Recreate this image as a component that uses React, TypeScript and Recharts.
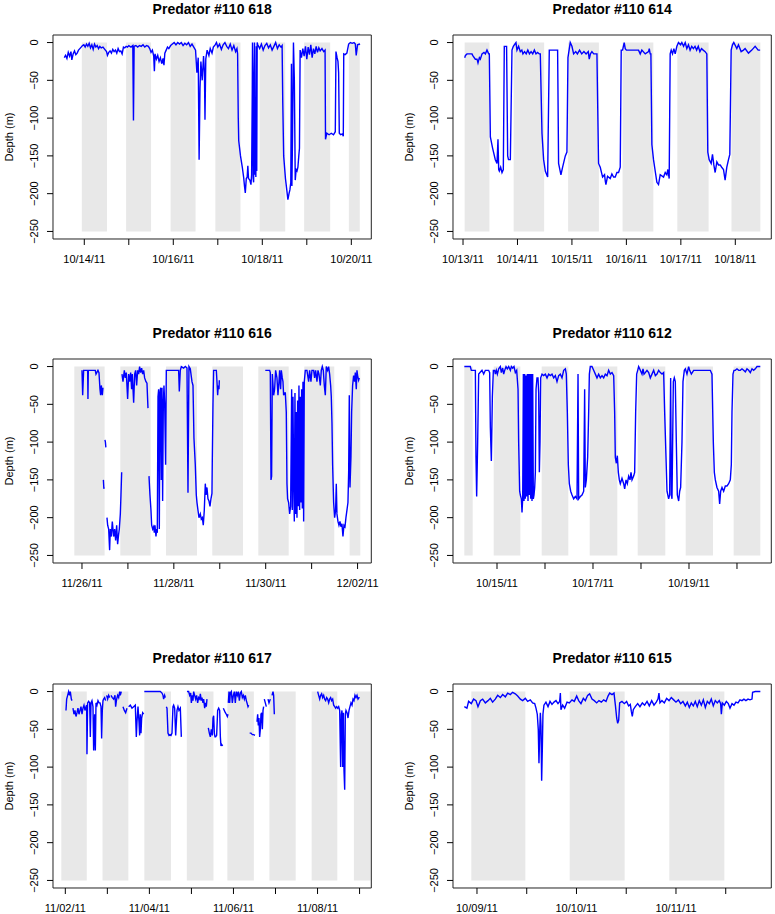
import { LineChart, Line, XAxis, YAxis, ReferenceArea } from "recharts";

const FONT = '"Liberation Sans", Arial, Helvetica, sans-serif';
const BOX_W = 318.3;
const BOX_H = 204;
const PAD_L = 50;
const PAD_T = 40;
const PAD_R = 10;
const PAD_B = 40;
const Y_DOMAIN: [number, number] = [-260, 10];

type Pt = [number, number | null];
type Band = [number, number];

const depthTicks = [-250, -200, -150, -100, -50, 0];

// 618 — days from 10/13/11
const ticks618 = [1, 2, 3, 4, 5, 6, 7];
const labels618 = ["10/14/11", "", "10/16/11", "", "10/18/11", "", "10/20/11"];
const nights618: Band[] = [
  [0.945, 1.51], [1.94, 2.5], [2.94, 3.5], [3.945, 4.51], [4.94, 5.515], [5.94, 6.525], [6.945, 7.19],
];
const trace618: Pt[] = [
  [0.55, -20], [0.58, -17], [0.61, -21], [0.64, -13], [0.67, -18], [0.7, -12], [0.72, -23], [0.75, -15],
  [0.78, -11], [0.81, -16], [0.84, -14], [0.87, -10], [0.9, -8], [0.93, -6], [0.96, -4], [0.99, -3],
  [1.02, -6], [1.05, -2], [1.08, -5], [1.11, -1], [1.14, -7], [1.17, -3], [1.2, -9], [1.23, -2],
  [1.26, -6], [1.29, -4], [1.32, -8], [1.35, -5], [1.38, -7], [1.42, -6], [1.46, -9], [1.5, -12],
  [1.52, -17], [1.55, -13], [1.58, -11], [1.61, -14], [1.64, -9], [1.67, -12], [1.7, -10], [1.73, -14],
  [1.76, -8], [1.79, -12], [1.82, -11], [1.85, -15], [1.88, -6], [1.91, -7], [1.94, -5], [1.97, -6],
  [2.0, -4], [2.05, -6], [2.09, -4], [2.105, -103], [2.12, -5], [2.16, -4], [2.2, -6], [2.24, -4],
  [2.28, -5], [2.32, -3], [2.36, -6], [2.4, -4], [2.44, -5], [2.47, -8], [2.5, -13], [2.53, -10],
  [2.56, -18], [2.575, -38], [2.59, -15], [2.62, -22], [2.65, -17], [2.68, -25], [2.71, -20], [2.74, -28],
  [2.77, -21], [2.79, -30], [2.81, -14], [2.84, -10], [2.87, -6], [2.9, -8], [2.94, -4], [2.98, -2],
  [3.02, 0], [3.06, -3], [3.1, 0], [3.14, -2], [3.18, 0], [3.22, -4], [3.26, -1], [3.3, -3],
  [3.34, 0], [3.38, -5], [3.42, -2], [3.46, -6], [3.5, -10], [3.53, -40], [3.56, -20], [3.58, -155],
  [3.6, -60], [3.62, -25], [3.65, -50], [3.68, -18], [3.7, -40], [3.712, -102], [3.73, -22], [3.76, -10],
  [3.8, -17], [3.83, -8], [3.87, -14], [3.9, -6], [3.94, -3], [3.97, 0], [4.0, -6], [4.04, -2],
  [4.08, -9], [4.12, -3], [4.16, 0], [4.2, -5], [4.24, -8], [4.28, -2], [4.32, -10], [4.36, -4],
  [4.4, -12], [4.43, -8], [4.445, -15], [4.46, -100], [4.47, -130], [4.51, -150], [4.55, -165], [4.58, -178],
  [4.6, -190], [4.618, -199], [4.64, -180], [4.66, -178], [4.675, -163], [4.69, -180], [4.72, -182], [4.745, -188],
  [4.76, -175], [4.775, -60], [4.78, 0], [4.795, -180], [4.805, -185], [4.815, -40], [4.825, 0], [4.835, -175],
  [4.845, -110], [4.855, -178], [4.865, -5], [4.875, -170], [4.885, 0], [4.9, -3], [4.94, -8], [4.98, -2],
  [5.02, -10], [5.06, -4], [5.1, -1], [5.14, -7], [5.18, -3], [5.22, -10], [5.26, -5], [5.3, 0],
  [5.34, -8], [5.38, -3], [5.42, -6], [5.445, -4], [5.46, -80], [5.48, -150], [5.52, -180], [5.55, -195],
  [5.575, -208], [5.6, -200], [5.62, -195], [5.64, -185], [5.655, -28], [5.665, -190], [5.68, -120], [5.7, 0],
  [5.72, -50], [5.74, -182], [5.76, -168], [5.78, -170], [5.8, -165], [5.82, -150], [5.835, -140], [5.85, -10],
  [5.88, -20], [5.91, -8], [5.94, -18], [5.97, -5], [6.0, -22], [6.03, -6], [6.06, -16], [6.09, -3],
  [6.12, -20], [6.15, -8], [6.18, -15], [6.21, -5], [6.24, -13], [6.27, -7], [6.3, -11], [6.34, -8],
  [6.38, -12], [6.41, -10], [6.42, -128], [6.45, -120], [6.5, -122], [6.55, -120], [6.6, -122], [6.64, -118],
  [6.655, -12], [6.68, -20], [6.7, -25], [6.715, -40], [6.73, -120], [6.76, -122], [6.8, -121], [6.82, -124],
  [6.83, -15], [6.86, -16], [6.9, -14], [6.94, -2], [6.98, 0], [7.02, -1], [7.06, 0], [7.09, -2],
  [7.11, -17], [7.14, -3], [7.18, -2], [7.19, -3],
];

// 614 — days from 10/13/11
const ticks614 = [0, 1, 2, 3, 4, 5];
const labels614 = ["10/13/11", "10/14/11", "10/15/11", "10/16/11", "10/17/11", "10/18/11"];
const nights614: Band[] = [
  [0.03, 0.485], [0.93, 1.49], [1.93, 2.495], [2.93, 3.495], [3.935, 4.51], [4.93, 5.46],
];
const trace614: Pt[] = [
  [0.031, -20], [0.045, -17], [0.073, -15], [0.12, -15], [0.165, -15], [0.177, -17], [0.226, -22], [0.257, -22],
  [0.275, -27], [0.3, -20], [0.318, -22], [0.349, -15], [0.385, -13], [0.41, -15], [0.44, -10], [0.471, -15],
  [0.483, -15], [0.502, -125], [0.544, -140], [0.593, -155], [0.624, -160], [0.642, -128], [0.655, -168], [0.667, -170],
  [0.691, -165], [0.716, -172], [0.74, -168], [0.758, -5], [0.8, -5], [0.82, -150], [0.835, -155], [0.869, -155],
  [0.899, -10], [0.924, -5], [0.942, -3], [0.972, 0], [0.991, -10], [1.021, -5], [1.052, -12], [1.08, -10],
  [1.1, -15], [1.13, -12], [1.16, -15], [1.19, -10], [1.22, -15], [1.25, -12], [1.28, -15], [1.31, -10],
  [1.34, -15], [1.37, -13], [1.4, -15], [1.419, -15], [1.45, -120], [1.48, -155], [1.511, -170], [1.554, -178],
  [1.584, -10], [1.737, -10], [1.755, -160], [1.798, -175], [1.829, -165], [1.878, -150], [1.908, -145], [1.927, -20],
  [1.969, 0], [2.0, -5], [2.031, -15], [2.07, -12], [2.1, -15], [2.14, -10], [2.18, -15], [2.22, -12],
  [2.26, -15], [2.3, -12], [2.318, -22], [2.34, -15], [2.367, -12], [2.4, -15], [2.446, -15], [2.459, -15],
  [2.489, -160], [2.52, -165], [2.563, -178], [2.599, -175], [2.612, -183], [2.624, -188], [2.654, -177], [2.703, -180],
  [2.734, -174], [2.765, -178], [2.795, -178], [2.826, -172], [2.856, -172], [2.887, -165], [2.905, -10], [2.93, -10],
  [2.96, 0], [2.979, -8], [3.0, -10], [3.1, -10], [3.223, -10], [3.254, -15], [3.284, -10], [3.346, -15],
  [3.407, -12], [3.42, -8], [3.437, -15], [3.45, -15], [3.468, -135], [3.498, -155], [3.529, -170], [3.56, -185],
  [3.59, -188], [3.621, -175], [3.682, -178], [3.713, -172], [3.743, -175], [3.761, -168], [3.786, -180], [3.804, -15],
  [3.823, -10], [3.847, -15], [3.872, -8], [3.896, -15], [3.927, -5], [3.957, 0], [3.994, -3], [4.018, 0],
  [4.05, -5], [4.08, 0], [4.11, -8], [4.14, -3], [4.17, -10], [4.2, -5], [4.23, -8], [4.26, -5],
  [4.29, -10], [4.32, -5], [4.35, -12], [4.38, -8], [4.41, -10], [4.446, -12], [4.477, -15], [4.495, -145],
  [4.52, -155], [4.557, -160], [4.581, -148], [4.606, -162], [4.63, -172], [4.661, -158], [4.691, -162], [4.722, -162],
  [4.75, -165], [4.783, -168], [4.813, -182], [4.844, -165], [4.875, -155], [4.899, -148], [4.924, -10], [4.948, -3],
  [4.972, 0], [5.028, -8], [5.058, -3], [5.107, -12], [5.15, -10], [5.18, -8], [5.242, -14], [5.303, -10],
  [5.364, -5], [5.42, -10], [5.456, -10],
];

// 616 — days from 11/26/11
const ticks616 = [0, 1, 2, 3, 4, 5, 6];
const labels616 = ["11/26/11", "", "11/28/11", "", "11/30/11", "", "12/02/11"];
const nights616: Band[] = [
  [-0.167, 0.493], [0.835, 1.495], [1.83, 2.505], [2.837, 3.505], [3.839, 4.5], [4.84, 5.493], [5.827, 6.06],
];
const trace616: Pt[] = [
  [0, -5], [0.015, -38], [0.036, -5], [0.08, -5], [0.123, -5], [0.13, -43], [0.138, -5], [0.2, -5],
  [0.29, -5], [0.305, -10], [0.348, -5], [0.37, -8], [0.392, -30], [0.406, -38], [0.421, -25], [0.443, -38],
  [0.457, -28], [0.462, null],
  [0.466, -150], [0.475, -160], [0.48, -162], [0.49, null],
  [0.5, -97], [0.51, -100], [0.52, -107], [0.53, null],
  [0.544, -200], [0.559, -210], [0.581, -215], [0.602, -243], [0.617, -215], [0.639, -225], [0.66, -205], [0.689, -225],
  [0.711, -215], [0.733, -230], [0.755, -210], [0.776, -235], [0.798, -222], [0.813, -215], [0.835, -195], [0.849, -170],
  [0.864, -140], [0.867, null],
  [0.871, -10], [0.893, -20], [0.922, -5], [0.943, -15], [0.965, -8], [0.994, -43], [1.016, -10], [1.038, -20],
  [1.06, -8], [1.081, -30], [1.096, -10], [1.125, -48], [1.147, -10], [1.168, -5], [1.19, -25], [1.212, -5],
  [1.234, -10], [1.255, 0], [1.277, -8], [1.299, -2], [1.321, -10], [1.343, -5], [1.364, -15], [1.393, -20],
  [1.415, -22], [1.437, -55], [1.448, null],
  [1.459, -145], [1.48, -170], [1.502, -190], [1.517, -210], [1.539, -215], [1.56, -212], [1.575, -220], [1.589, -210],
  [1.611, -225], [1.626, -215], [1.64, -220], [1.655, -40], [1.669, -30], [1.684, -215], [1.698, -35], [1.713, -28],
  [1.727, -150], [1.742, -28], [1.756, -178], [1.771, -50], [1.785, -25], [1.8, -48], [1.821, -130], [1.836, -5],
  [1.887, -5], [1.996, -5], [2.104, -5], [2.119, -33], [2.141, -5], [2.163, 0], [2.213, -2], [2.25, 0],
  [2.286, -2], [2.308, -167], [2.329, 0], [2.358, -3], [2.395, -20], [2.417, -25], [2.438, -95], [2.467, -130],
  [2.489, -170], [2.504, -180], [2.525, -190], [2.547, -200], [2.576, -195], [2.598, -202], [2.62, -200], [2.641, -210],
  [2.663, -190], [2.685, -155], [2.7, -170], [2.721, -160], [2.743, -175], [2.765, -178], [2.787, -185], [2.808, -175],
  [2.83, -168], [2.837, -125], [2.852, -50], [2.866, -5], [2.903, -5], [2.925, -5], [2.939, -20], [2.954, -38],
  [2.968, -25], [2.983, -30], [2.99, -18], [3.5, null],
  [3.991, -5], [4.086, -5], [4.1, -8], [4.115, -150], [4.129, -145], [4.144, -10], [4.173, -38], [4.194, -30],
  [4.216, -5], [4.245, -15], [4.267, -38], [4.289, -20], [4.303, -5], [4.325, -30], [4.34, -5], [4.361, -15],
  [4.376, -20], [4.39, -38], [4.405, -35], [4.427, -35], [4.448, -60], [4.463, -155], [4.477, -175], [4.499, -180],
  [4.521, -195], [4.543, -185], [4.565, -30], [4.579, -190], [4.594, -40], [4.608, -150], [4.623, -205], [4.637, -35],
  [4.652, -195], [4.666, -60], [4.681, -200], [4.695, -45], [4.71, -185], [4.724, -25], [4.739, -190], [4.753, -40],
  [4.768, -180], [4.782, -30], [4.797, -188], [4.811, -20], [4.826, -205], [4.84, -20], [4.862, -5], [4.898, -5],
  [4.935, -20], [4.956, -5], [4.985, -20], [5.007, -5], [5.044, -5], [5.065, -15], [5.087, -5], [5.116, -20],
  [5.138, -5], [5.16, -10], [5.189, -25], [5.21, -5], [5.232, 0], [5.254, -5], [5.276, -25], [5.298, -38],
  [5.319, 0], [5.348, -5], [5.37, 0], [5.392, -10], [5.414, -25], [5.428, -40], [5.443, -75], [5.457, -130],
  [5.479, -180], [5.501, -200], [5.522, -190], [5.537, -155], [5.551, -195], [5.573, -205], [5.595, -210], [5.617, -205],
  [5.638, -212], [5.66, -208], [5.682, -225], [5.704, -210], [5.726, -212], [5.747, -200], [5.769, -190], [5.791, -180],
  [5.806, -140], [5.82, -38], [5.835, -160], [5.856, -120], [5.871, -60], [5.892, -25], [5.914, -12], [5.936, -20],
  [5.951, -8], [5.972, -30], [5.987, -5], [6.001, -12], [6.023, -18], [6.038, -15],
];

// 612 — days from 10/15/11
const ticks612 = [0, 1, 2, 3, 4, 5];
const labels612 = ["10/15/11", "", "10/17/11", "", "10/19/11", ""];
const nights612: Band[] = [
  [-0.681, -0.507], [-0.069, 0.486], [0.931, 1.486], [1.931, 2.507], [2.931, 3.507], [3.931, 4.5], [4.931, 5.486],
];
const trace612: Pt[] = [
  [-0.681, 0], [-0.556, 0], [-0.535, -5], [-0.451, -5], [-0.438, -120], [-0.424, -172], [-0.403, -100], [-0.382, -10],
  [-0.313, -5], [-0.278, -10], [-0.243, -5], [-0.174, -5], [-0.153, -8], [-0.139, -80], [-0.118, -125], [-0.097, -40],
  [-0.076, -5], [-0.049, -5], [-0.035, -10], [-0.014, -5], [0.007, -10], [0.035, -3], [0.069, 0], [0.09, -8],
  [0.118, -2], [0.139, -10], [0.16, -5], [0.188, 0], [0.215, -3], [0.243, 0], [0.278, -5], [0.299, 0],
  [0.326, -2], [0.354, 0], [0.382, -8], [0.41, -5], [0.438, -30], [0.451, -100], [0.472, -165], [0.486, -170],
  [0.507, -175], [0.521, -193], [0.535, -175], [0.549, -10], [0.563, -178], [0.576, -10], [0.59, -175], [0.604, -12],
  [0.618, -172], [0.632, -10], [0.646, -178], [0.66, -10], [0.674, -170], [0.688, -10], [0.701, -175], [0.715, -10],
  [0.729, -178], [0.743, -10], [0.757, -175], [0.771, -170], [0.785, -160], [0.799, -140], [0.813, -30], [0.833, -15],
  [0.854, -15], [0.868, -35], [0.882, -140], [0.896, -100], [0.91, -15], [0.938, -10], [0.972, -12], [1.007, -10],
  [1.042, -15], [1.076, -10], [1.111, -12], [1.146, -10], [1.181, -15], [1.215, -12], [1.25, -20], [1.285, -12],
  [1.319, -10], [1.354, -15], [1.389, -5], [1.424, -3], [1.444, -10], [1.465, -60], [1.486, -130], [1.507, -155],
  [1.535, -165], [1.563, -170], [1.597, -175], [1.632, -172], [1.667, -175], [1.688, -10], [1.701, -175], [1.736, -172],
  [1.771, -170], [1.806, -165], [1.826, -30], [1.84, -160], [1.861, -150], [1.889, -120], [1.91, -60], [1.924, -10],
  [1.944, 0], [1.979, 0], [2.014, -5], [2.049, -10], [2.083, -15], [2.118, -10], [2.153, -15], [2.188, -12],
  [2.222, -15], [2.257, -10], [2.292, -12], [2.326, -5], [2.361, -10], [2.396, -8], [2.431, -12], [2.451, -60],
  [2.465, -120], [2.486, -128], [2.507, -118], [2.528, -140], [2.549, -150], [2.569, -155], [2.604, -148], [2.639, -155],
  [2.66, -162], [2.688, -150], [2.715, -155], [2.743, -145], [2.771, -150], [2.792, -140], [2.813, -150], [2.847, -145],
  [2.868, -140], [2.889, -60], [2.91, -10], [2.931, -5], [2.951, 0], [2.986, -5], [3.021, -10], [3.042, -3],
  [3.063, -10], [3.09, -8], [3.125, -5], [3.16, -8], [3.194, -15], [3.229, -10], [3.264, -5], [3.299, -12],
  [3.333, -10], [3.368, -5], [3.403, -8], [3.438, -10], [3.472, -8], [3.493, -60], [3.521, -120], [3.542, -165],
  [3.576, -175], [3.597, -170], [3.618, -15], [3.632, -170], [3.646, -175], [3.674, -20], [3.694, -15], [3.715, -20],
  [3.736, -100], [3.757, -170], [3.785, -178], [3.806, -165], [3.826, -160], [3.854, -100], [3.875, -20], [3.903, -5],
  [3.924, -3], [3.958, -10], [3.993, 0], [4.014, -5], [4.049, -10], [4.097, -5], [4.167, -5], [4.236, -5],
  [4.306, -5], [4.375, -5], [4.444, -5], [4.479, -10], [4.507, -100], [4.528, -140], [4.549, -150], [4.583, -160],
  [4.618, -165], [4.639, -182], [4.66, -165], [4.688, -160], [4.722, -165], [4.757, -158], [4.792, -158], [4.826, -155],
  [4.861, -150], [4.882, -130], [4.896, -60], [4.917, -10], [4.938, -5], [4.965, -5], [5.0, -3], [5.035, -5],
  [5.069, -5], [5.104, -3], [5.139, -5], [5.174, -7], [5.208, -3], [5.243, -5], [5.278, -8], [5.313, -3],
  [5.347, -5], [5.382, -3], [5.417, 0], [5.486, 0],
];

// 617 — days from 11/02/11
const ticks617 = [0, 1, 2, 3, 4, 5, 6, 7];
const labels617 = ["11/02/11", "", "11/04/11", "", "11/06/11", "", "11/08/11", ""];
const nights617: Band[] = [
  [-0.095, 0.51], [0.885, 1.5], [1.88, 2.515], [2.89, 3.525], [3.855, 4.485], [4.855, 5.48], [5.86, 6.47], [6.865, 7.262],
];
const trace617: Pt[] = [
  [0.016, -25], [0.032, -10], [0.056, -5], [0.079, 0], [0.103, -5], [0.119, 0], [0.143, -10], [0.159, -12], [0.17, null],
  [0.182, -22], [0.206, -30], [0.23, -25], [0.254, -33], [0.278, -28], [0.301, -22], [0.325, -30], [0.349, -25],
  [0.373, -20], [0.397, -30], [0.42, -22], [0.444, -18], [0.468, -25], [0.492, -20], [0.508, -18], [0.515, -83],
  [0.531, -15], [0.555, -13], [0.579, -15], [0.595, -60], [0.611, -15], [0.634, -12], [0.658, -20], [0.674, -78],
  [0.698, -30], [0.714, -78], [0.73, -15], [0.753, -18], [0.777, -12], [0.801, -15], [0.825, -15], [0.849, -20],
  [0.864, -62], [0.88, -25], [0.896, -12], [0.912, -10], [0.936, -8], [0.96, -12], [0.972, null],
  [0.983, -5], [1.007, -10], [1.031, -5], [1.055, -8], [1.07, null],
  [1.086, -5], [1.118, -8], [1.15, -10], [1.182, -5], [1.197, -20], [1.221, -10], [1.245, -5], [1.269, -8],
  [1.293, 0], [1.308, -5], [1.332, 0], [1.35, null],
  [1.372, -20], [1.404, -25], [1.435, -28], [1.467, -22], [1.49, null],
  [1.507, -20], [1.546, -18], [1.586, -22], [1.626, -20], [1.665, -18], [1.689, -60], [1.705, -40], [1.729, -20],
  [1.753, -40], [1.768, -58], [1.784, -30], [1.8, -55], [1.816, -35], [1.84, -28], [1.864, -30], [1.872, null],
  [1.879, 0], [1.943, 0], [2.022, 0], [2.101, 0], [2.181, 0], [2.26, 0], [2.3, -2], [2.324, -5],
  [2.339, -10], [2.363, -5], [2.379, -8], [2.39, null],
  [2.403, -20], [2.419, -22], [2.442, -55], [2.466, -58], [2.49, -57], [2.514, -58], [2.538, -55], [2.561, -20],
  [2.577, -18], [2.601, -22], [2.625, -58], [2.657, -25], [2.68, -20], [2.704, -25], [2.736, -22], [2.76, -60], [2.8, null],
  [2.894, 0], [2.934, 0], [2.958, -5], [2.982, -2], [2.998, -15], [3.021, -5], [3.037, -12], [3.053, 0],
  [3.077, -5], [3.101, -10], [3.124, -5], [3.148, -15], [3.172, -8], [3.196, -10], [3.212, -3], [3.235, -12],
  [3.251, -8], [3.275, -15], [3.291, -10], [3.315, -22], [3.331, -15], [3.354, -20], [3.37, -10], [3.385, null],
  [3.402, -48], [3.426, -55], [3.45, -60], [3.473, -50], [3.497, -58], [3.513, -35], [3.529, -32], [3.545, -55],
  [3.561, -60], [3.577, -60], [3.6, -58], [3.624, -25], [3.648, -22], [3.672, -25], [3.688, -60], [3.703, -72],
  [3.719, -70], [3.743, -72], [3.75, null],
  [3.759, -22], [3.783, -25], [3.807, -28], [3.83, -30], [3.854, -33], [3.87, -30], [3.874, null],
  [3.878, -15], [3.894, 0], [3.91, -15], [3.925, -2], [3.949, 0], [3.973, -15], [3.997, -5], [4.021, 0],
  [4.044, -15], [4.068, 0], [4.092, -5], [4.116, 0], [4.14, -12], [4.163, -2], [4.187, 0], [4.211, -8],
  [4.235, -5], [4.259, -10], [4.282, -5], [4.306, -12], [4.322, -15], [4.346, -20], [4.362, -18], [4.372, null],
  [4.385, -55], [4.417, -55], [4.449, -57], [4.481, -57], [4.512, -58], [4.535, null],
  [4.56, -40], [4.576, -30], [4.591, -45], [4.607, -35], [4.623, -60], [4.639, -50], [4.655, -30], [4.671, -28],
  [4.687, -50], [4.703, -25], [4.718, -20], [4.726, null],
  [4.734, -10], [4.758, -15], [4.782, -20], [4.8, null],
  [4.822, -10], [4.845, -15], [4.877, -10], [4.9, null],
  [4.917, -5], [4.941, 0], [4.956, -5], [4.972, -30], [5.5, null],
  [6.003, 0], [6.027, -5], [6.051, -10], [6.075, -5], [6.098, -3], [6.122, -8], [6.146, -5], [6.17, -10],
  [6.193, -12], [6.217, -8], [6.241, -10], [6.265, -15], [6.289, -10], [6.312, -8], [6.336, -12], [6.36, -10],
  [6.384, -18], [6.408, -20], [6.431, -22], [6.455, -20], [6.479, -22], [6.503, -20], [6.527, -25], [6.55, -100],
  [6.566, -30], [6.582, -25], [6.598, -100], [6.614, -28], [6.63, -105], [6.646, -130], [6.661, -30], [6.677, -25],
  [6.701, -28], [6.725, -35], [6.749, -25], [6.772, -20], [6.796, -15], [6.82, -18], [6.844, -10], [6.867, -12],
  [6.891, -5], [6.915, -8], [6.939, -5], [6.963, -10], [6.986, -8], [7.002, -8],
];

// 615 — days from 10/09/11
const ticks615 = [0, 0.5, 1, 1.5, 2, 2.5];
const labels615 = ["10/09/11", "", "10/10/11", "", "10/11/11", ""];
const nights615: Band[] = [[-0.057, 0.486], [0.932, 1.484], [1.933, 2.486]];
const trace615: Pt[] = [
  [-0.127, -20], [-0.101, -22], [-0.084, -13], [-0.057, -16], [-0.034, -10], [-0.01, -12], [0.01, -20], [0.034, -12],
  [0.057, -10], [0.084, -15], [0.111, -12], [0.134, -9], [0.157, -14], [0.184, -10], [0.208, -5], [0.235, -8],
  [0.258, -4], [0.285, -7], [0.308, -2], [0.335, -4], [0.358, -1], [0.385, -3], [0.409, -6], [0.436, -10],
  [0.459, -12], [0.486, -9], [0.509, -13], [0.536, -11], [0.559, -15], [0.58, -16], [0.593, -22], [0.606, -30],
  [0.616, -50], [0.623, -95], [0.63, -55], [0.637, -28], [0.643, -45], [0.65, -118], [0.657, -75], [0.663, -30],
  [0.673, -18], [0.693, -14], [0.714, -20], [0.734, -13], [0.754, -17], [0.774, -14], [0.794, -12], [0.814, -16],
  [0.831, -13], [0.838, -2], [0.844, -24], [0.861, -18], [0.881, -22], [0.905, -14], [0.928, -15], [0.955, -11],
  [0.978, -13], [1.002, -6], [1.022, -12], [1.045, -16], [1.069, -9], [1.089, -12], [1.112, -5], [1.132, -3],
  [1.156, -10], [1.179, -12], [1.203, -15], [1.226, -12], [1.25, -14], [1.273, -11], [1.297, -13], [1.317, -6],
  [1.334, -2], [1.357, -4], [1.377, -2], [1.391, -18], [1.404, -35], [1.414, -42], [1.424, -38], [1.434, -15],
  [1.457, -13], [1.481, -16], [1.504, -13], [1.524, -19], [1.541, -17], [1.551, -26], [1.561, -33], [1.571, -24],
  [1.591, -20], [1.615, -16], [1.638, -20], [1.662, -15], [1.685, -18], [1.709, -13], [1.732, -19], [1.756, -12],
  [1.779, -18], [1.802, -14], [1.819, -10], [1.829, -2], [1.839, -15], [1.859, -12], [1.883, -15], [1.906, -9],
  [1.93, -12], [1.953, -8], [1.977, -11], [2.0, -14], [2.024, -11], [2.047, -16], [2.07, -13], [2.094, -19],
  [2.114, -14], [2.134, -21], [2.154, -15], [2.174, -19], [2.194, -13], [2.214, -20], [2.234, -12], [2.255, -18],
  [2.275, -11], [2.295, -21], [2.315, -13], [2.335, -16], [2.355, -10], [2.375, -19], [2.395, -12], [2.415, -15],
  [2.435, -12], [2.449, -16], [2.456, -30], [2.466, -15], [2.486, -18], [2.506, -13], [2.526, -16], [2.543, -22],
  [2.563, -16], [2.583, -18], [2.603, -14], [2.623, -15], [2.643, -11], [2.663, -12], [2.683, -10], [2.703, -12],
  [2.724, -10], [2.744, -11], [2.764, -10], [2.77, -1], [2.797, 0], [2.848, 0],
];

type PanelProps = {
  title: string;
  left: number;
  top: number;
  domain: [number, number];
  ticks: number[];
  labels: string[];
  nights: Band[];
  trace: Pt[];
};

const fmtDepth = (v: number) => (v < 0 ? "\u2212" + Math.abs(v) : String(v));

const Panel = ({ title, left, top, domain, ticks, labels, nights, trace }: PanelProps) => {
  const data = trace.map(([t, d]) => ({ t, d }));
  const w = BOX_W + PAD_L + PAD_R;
  const h = BOX_H + PAD_T + PAD_B;

  const xTick = (p: any) => {
    const i = ticks.indexOf(p.payload.value);
    return (
      <text x={p.x} y={p.y} dy="0.36em" textAnchor="middle" fontSize={11} fontFamily={FONT} fill="#000">
        {labels[i] ?? ""}
      </text>
    );
  };
  const yTick = (p: any) => (
    <text
      x={p.x}
      y={p.y}
      dy="0.36em"
      transform={`rotate(-90 ${p.x} ${p.y})`}
      textAnchor="middle"
      fontSize={11}
      fontFamily={FONT}
      fill="#000"
    >
      {fmtDepth(p.payload.value)}
    </text>
  );

  return (
    <div style={{ position: "absolute", left: left - PAD_L, top: top - PAD_T, width: w, height: h }}>
      <LineChart width={w} height={h} data={data} margin={{ top: PAD_T, right: PAD_R, bottom: 0, left: 0 }}>
        <XAxis
          type="number"
          dataKey="t"
          domain={domain}
          allowDataOverflow
          ticks={ticks}
          interval={0}
          height={PAD_B}
          axisLine={false}
          tickLine={{ stroke: "#000" }}
          tickSize={6}
          tickMargin={14}
          tick={xTick}
        />
        <YAxis
          type="number"
          domain={Y_DOMAIN}
          allowDataOverflow
          ticks={depthTicks}
          interval={0}
          width={PAD_L}
          axisLine={false}
          tickLine={{ stroke: "#000" }}
          tickSize={6}
          tickMargin={13.4}
          tick={yTick}
        />
        {nights.map(([s, e], i) => (
          <ReferenceArea key={i} x1={s} x2={e} y1={-250} y2={0} fill="#e8e8e8" fillOpacity={1} stroke="none" />
        ))}
        <Line
          type="linear"
          dataKey="d"
          stroke="#0000ff"
          strokeWidth={1.4}
          dot={false}
          activeDot={false}
          connectNulls={false}
          isAnimationActive={false}
        />
        <ReferenceArea
          x1={domain[0]}
          x2={domain[1]}
          y1={Y_DOMAIN[0]}
          y2={Y_DOMAIN[1]}
          fill="none"
          fillOpacity={0}
          stroke="#222"
          strokeWidth={1}
        />
      </LineChart>
      <svg width={w} height={h} style={{ position: "absolute", left: 0, top: 0, pointerEvents: "none" }}>
        <text
          x={PAD_L + BOX_W / 2}
          y={PAD_T - 26}
          dy="0.36em"
          textAnchor="middle"
          fontSize={14}
          fontWeight="bold"
          fontFamily={FONT}
          fill="#000"
        >
          {title}
        </text>
        <text
          x={PAD_L - 44.4}
          y={PAD_T + BOX_H / 2}
          dy="0.36em"
          transform={`rotate(-90 ${PAD_L - 44.4} ${PAD_T + BOX_H / 2})`}
          textAnchor="middle"
          fontSize={11}
          fontFamily={FONT}
          fill="#000"
        >
          Depth (m)
        </text>
      </svg>
    </div>
  );
};

export default function App() {
  return (
    <div style={{ position: "absolute", left: 0, top: 0, width: 775, height: 914, background: "#fff" }}>
      <Panel title="Predator #110 618" left={52.7} top={34.5} domain={[0.297, 7.449]}
        ticks={ticks618} labels={labels618} nights={nights618} trace={trace618} />
      <Panel title="Predator #110 614" left={452.7} top={34.5} domain={[-0.184, 5.661]}
        ticks={ticks614} labels={labels614} nights={nights614} trace={trace614} />
      <Panel title="Predator #110 616" left={52.7} top={359} domain={[-0.631, 6.299]}
        ticks={ticks616} labels={labels616} nights={nights616} trace={trace616} />
      <Panel title="Predator #110 612" left={452.7} top={359} domain={[-0.917, 5.715]}
        ticks={ticks612} labels={labels612} nights={nights612} trace={trace612} />
      <Panel title="Predator #110 617" left={52.7} top={683.5} domain={[-0.293, 7.279]}
        ticks={ticks617} labels={labels617} nights={nights617} trace={trace617} />
      <Panel title="Predator #110 615" left={452.7} top={683.5} domain={[-0.241, 2.958]}
        ticks={ticks615} labels={labels615} nights={nights615} trace={trace615} />
    </div>
  );
}
